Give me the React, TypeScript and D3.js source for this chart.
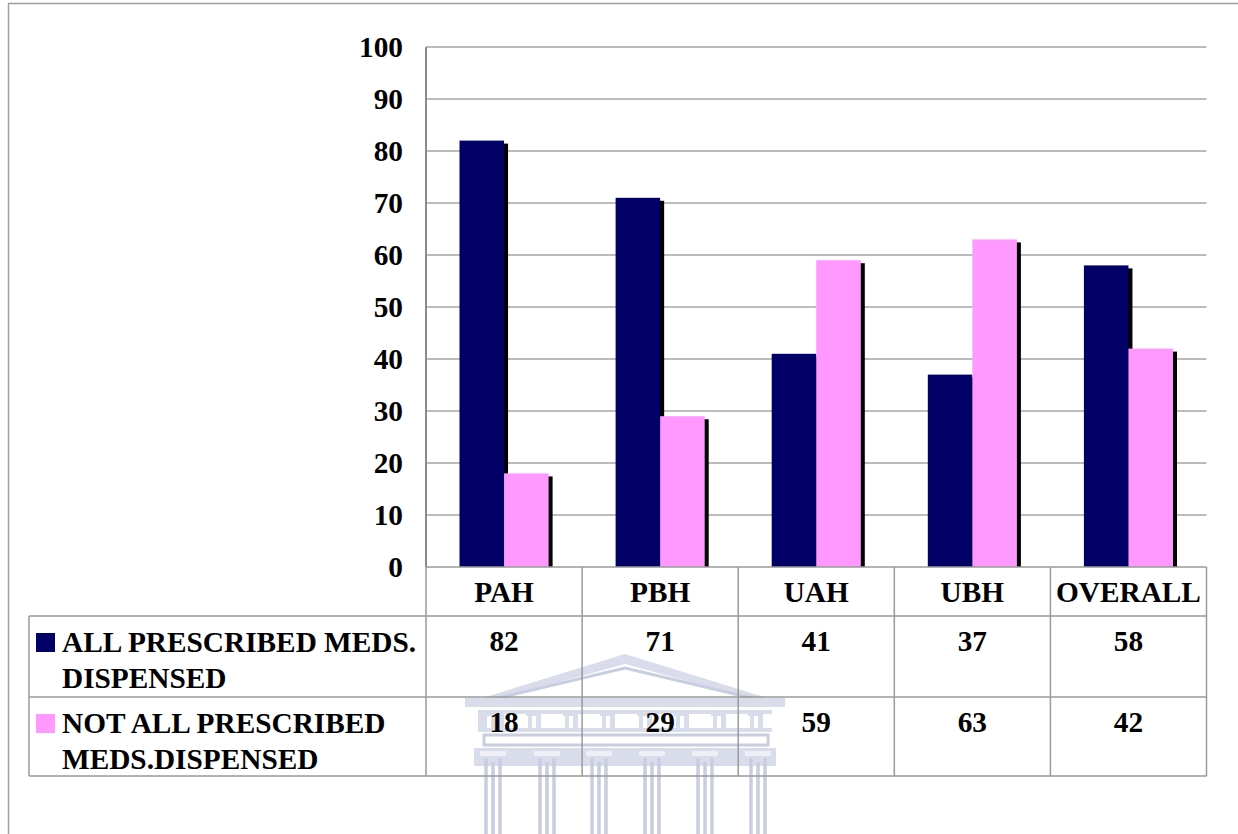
import * as d3 from 'd3'

const categories = ['PAH', 'PBH', 'UAH', 'UBH', 'OVERALL']
const allDispensed = [82, 71, 41, 37, 58]
const notAllDispensed = [18, 29, 59, 63, 42]
const yTicks = [0, 10, 20, 30, 40, 50, 60, 70, 80, 90, 100]

const series = [
  { key: 'all', lines: ['ALL PRESCRIBED MEDS.', 'DISPENSED'], values: allDispensed, color: '#000066' },
  { key: 'notAll', lines: ['NOT ALL PRESCRIBED', 'MEDS.DISPENSED'], values: notAllDispensed, color: '#ff99ff' },
]

const W = 1238
const H = 834
const font = '"Liberation Serif", "Times New Roman", serif'
const fs = 29.3
const gridColor = '#bcbcbc'
const tableColor = '#9a9a9a'
const wm = '#c9cde0'
const wmFill = '#d9dcea'

// plot area
const left = 426
const right = 1206.5
const top = 47
const bottom = 567
// table rows
const rowTops = [567, 616, 697, 776]
const tableLeft = 29

// faint building watermark behind the table
const Watermark = () => {
  const cols = [493, 547, 599, 652, 705, 758]
  return (
    <g fill="none" stroke={wm} strokeWidth={3}>
      <polygon points="463,704 625,654 787,704 770,704 625,664 480,704" fill={wmFill} stroke="none" />
      <polyline points="490,700 625,668 760,700" />
      <rect x={465} y={698} width={320} height={9} fill={wmFill} stroke="none" />
      <rect x={478} y={710} width={294} height={22} fill={wmFill} stroke="none" />
      {d3.range(8).map((i) => (
        <g key={i} stroke="none" fill="#fff">
          <rect x={487 + i * 37} y={716} width={4} height={12} />
          <rect x={495 + i * 37} y={716} width={4} height={12} />
          <rect x={504 + i * 37} y={714} width={22} height={14} />
        </g>
      ))}
      <rect x={484} y={735} width={284} height={10} />
      <rect x={474} y={748} width={302} height={18} fill={wmFill} stroke="none" />
      {cols.map((c) => (
        <g key={c}>
          <rect x={c - 13} y={751} width={26} height={5} fill="#eef0f6" stroke="none" />
          <line x1={c - 7} x2={c - 7} y1={758} y2={834} strokeWidth={3.5} />
          <line x1={c} x2={c} y1={762} y2={834} strokeWidth={3.5} />
          <line x1={c + 7} x2={c + 7} y1={758} y2={834} strokeWidth={3.5} />
        </g>
      ))}
    </g>
  )
}

export default function App() {
  const x = d3.scaleBand<string>().domain(categories).range([left, right]).padding(0)
  const inner = d3
    .scaleBand<string>()
    .domain(series.map((s) => s.key))
    .range([33.5, x.bandwidth() - 33.5])
  const y = d3.scaleLinear().domain([0, 100]).range([bottom, top])
  const bw = inner.bandwidth()

  return (
    <div style={{ position: 'absolute', left: 0, top: 0 }}>
      <svg width={W} height={H} style={{ display: 'block', background: '#fff' }} fontFamily={font}>
        <rect x={0} y={0} width={W} height={H} fill="#fff" />
        {/* chart frame */}
        <line x1={8} x2={W} y1={3.5} y2={3.5} stroke="#a0a0a0" strokeWidth={1.5} />
        <line x1={8.5} x2={8.5} y1={3} y2={H} stroke="#a0a0a0" strokeWidth={1.5} />

        <Watermark />

        {/* gridlines */}
        {yTicks.slice(1).map((t) => (
          <line key={t} x1={left} x2={right} y1={y(t)} y2={y(t)} stroke={gridColor} strokeWidth={2} />
        ))}
        {/* y tick labels */}
        {yTicks.map((t) => (
          <text key={t} x={403} y={y(t) + 10} textAnchor="end" fontSize={fs} fontWeight="bold" fill="#000">
            {t}
          </text>
        ))}

        {/* bars with shadows */}
        {series.map((s) =>
          categories.map((c, i) => {
            const bx = (x(c) ?? 0) + (inner(s.key) ?? 0)
            const by = y(s.values[i])
            const h = bottom - by
            return (
              <g key={s.key + c}>
                <rect x={bx + 4} y={by + 3} width={bw} height={h - 3} fill="#000" />
                <rect x={bx} y={by} width={bw} height={h} fill={s.color} />
              </g>
            )
          })
        )}

        {/* axis line */}
        <line x1={left} x2={left} y1={top} y2={bottom} stroke="#8a8a8a" strokeWidth={2} />

        {/* data table */}
        <g stroke={tableColor} strokeWidth={1.5}>
          <line x1={left} x2={right} y1={rowTops[0]} y2={rowTops[0]} />
          {rowTops.slice(1).map((r) => (
            <line key={r} x1={tableLeft} x2={right} y1={r} y2={r} />
          ))}
          <line x1={tableLeft} x2={tableLeft} y1={rowTops[1]} y2={rowTops[3]} />
          {categories.map((c) => (
            <line key={c} x1={x(c)} x2={x(c)} y1={rowTops[0]} y2={rowTops[3]} />
          ))}
          <line x1={right} x2={right} y1={rowTops[0]} y2={rowTops[3]} />
        </g>
        {categories.map((c) => (
          <text
            key={c}
            x={(x(c) ?? 0) + x.bandwidth() / 2}
            y={602}
            textAnchor="middle"
            fontSize={fs}
            fontWeight="bold"
          >
            {c}
          </text>
        ))}
        {series.map((s, si) => {
          const base = rowTops[si + 1] + 36
          return (
            <g key={s.key}>
              <rect x={36} y={base - 19} width={19} height={19} fill={s.color} />
              {s.lines.map((l, li) => (
                <text key={l} x={62} y={base + li * 36} fontSize={fs} fontWeight="bold">
                  {l}
                </text>
              ))}
              {categories.map((c, i) => (
                <text
                  key={c}
                  x={(x(c) ?? 0) + x.bandwidth() / 2}
                  y={base - 1}
                  textAnchor="middle"
                  fontSize={fs}
                  fontWeight="bold"
                >
                  {s.values[i]}
                </text>
              ))}
            </g>
          )
        })}
      </svg>
    </div>
  )
}
